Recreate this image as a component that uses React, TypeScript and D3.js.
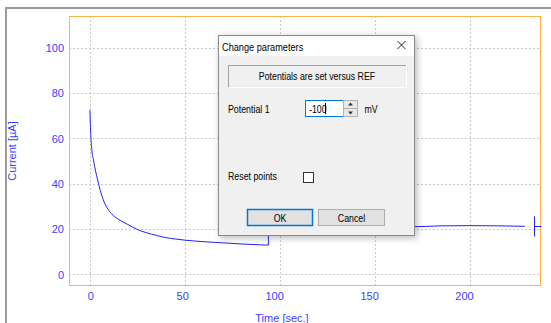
import React, { useEffect, useRef } from 'react';
import * as d3 from 'd3';

// chart values
const timeSec = [0, 0.5, 1, 2, 3, 4, 5, 6, 8, 10, 13, 16, 20, 25, 30, 35, 40, 45, 50, 60, 70, 80, 90, 94, 94, 100, 120, 140, 160, 170, 185, 200, 215, 229];
const currentUA = [72.5, 61, 55, 50, 45.5, 42, 38.5, 35.5, 31, 28.2, 25.5, 23.8, 22, 19.8, 18.3, 17.2, 16.2, 15.6, 15.1, 14.4, 13.9, 13.4, 13, 12.9, 23, 22.5, 22, 21.6, 21.3, 21, 21.4, 21.5, 21.4, 21.2];
const xTicks = [0, 50, 100, 150, 200];
const yTicks = [0, 20, 40, 60, 80, 100];
const markerTime = [234];
const markerCurrent = [21.2];

const W = 551;
const H = 323;
const plot = { left: 69, top: 16, right: 540, bottom: 285 };
const textBlue = '#3c3cff';
const dlgFont = '"Liberation Sans", Arial, sans-serif';

const Chart = () => {
  const gRef = useRef<SVGGElement>(null);

  useEffect(() => {
    const g = d3.select(gRef.current);
    g.selectAll('*').remove();

    const x = d3.scaleLinear().domain([-11, 237]).range([plot.left, plot.right]);
    const y = d3.scaleLinear().domain([-4.7, 114]).range([plot.bottom, plot.top]);

    // grid
    g.selectAll('.gx')
      .data(xTicks)
      .enter()
      .append('line')
      .attr('x1', (d) => Math.round(x(d)) + 0.5)
      .attr('x2', (d) => Math.round(x(d)) + 0.5)
      .attr('y1', plot.top)
      .attr('y2', plot.bottom)
      .attr('stroke', '#c8c8c8')
      .attr('stroke-dasharray', '2,2');

    g.selectAll('.gy')
      .data(yTicks)
      .enter()
      .append('line')
      .attr('x1', plot.left)
      .attr('x2', plot.right)
      .attr('y1', (d) => Math.round(y(d)) + 0.5)
      .attr('y2', (d) => Math.round(y(d)) + 0.5)
      .attr('stroke', '#c8c8c8')
      .attr('stroke-dasharray', '2,2');

    // plot frame
    g.append('rect')
      .attr('x', plot.left + 0.5)
      .attr('y', plot.top + 0.5)
      .attr('width', plot.right - plot.left)
      .attr('height', plot.bottom - plot.top)
      .attr('fill', 'none')
      .attr('stroke', '#ffb347');

    // tick labels
    g.selectAll('.ty')
      .data(yTicks)
      .enter()
      .append('text')
      .attr('x', 64)
      .attr('y', (d) => y(d) + 4.3)
      .attr('text-anchor', 'end')
      .attr('font-size', 11)
      .attr('fill', textBlue)
      .text((d) => d);

    g.selectAll('.tx')
      .data(xTicks)
      .enter()
      .append('text')
      .attr('x', (d) => x(d) + 4)
      .attr('y', 300)
      .attr('text-anchor', 'end')
      .attr('font-size', 11)
      .attr('fill', textBlue)
      .text((d) => d);

    // axis titles
    g.append('text')
      .attr('x', 282)
      .attr('y', 322)
      .attr('text-anchor', 'middle')
      .attr('font-size', 11)
      .attr('fill', textBlue)
      .text('Time [sec.]');

    g.append('text')
      .attr('transform', 'translate(15.5,151) rotate(-90)')
      .attr('text-anchor', 'middle')
      .attr('font-size', 11)
      .attr('fill', textBlue)
      .text('Current [µA]');

    // current curve
    const line = d3
      .line<number>()
      .x((d) => x(d))
      .y((d, i) => y(currentUA[i]))
      .curve(d3.curveMonotoneX);

    g.append('path')
      .datum(timeSec)
      .attr('d', line)
      .attr('fill', 'none')
      .attr('stroke', '#2020ff')
      .attr('stroke-width', 1);

    // end cursor
    markerTime.forEach((t, i) => {
      const mx = Math.round(x(t)) + 0.5;
      const my = Math.round(y(markerCurrent[i])) + 0.5;
      g.append('line')
        .attr('x1', mx).attr('x2', mx)
        .attr('y1', my - 10).attr('y2', my + 10)
        .attr('stroke', '#2020ff');
      g.append('line')
        .attr('x1', mx).attr('x2', mx + 7)
        .attr('y1', my).attr('y2', my)
        .attr('stroke', '#2020ff');
    });
  }, []);

  return <g ref={gRef} fontFamily='"Liberation Sans", Arial, sans-serif' />;
};

// dialog text, squeezed to look like the narrow windows UI font
const DText = ({ x, y, size = 11, anchor = 'start', children }: any) => (
  <text
    transform={`translate(${x},${y}) scale(0.8,1)`}
    fontSize={size}
    textAnchor={anchor}
  >
    {children}
  </text>
);

const Dialog = () => (
  <g fontFamily={dlgFont} fill="#000">
    <rect x={218.5} y={35.5} width={196} height={200} fill="#f0f0f0" stroke="#8a8a8a" filter="url(#shadow)" />
    <rect x={219} y={36} width={195} height={20} fill="#fff" />
    <DText x={222} y={50.5} size={11.5}>Change parameters</DText>
    <path d="M397.5,41 L405.5,49 M405.5,41 L397.5,49" stroke="#222" strokeWidth={1} />

    {/* sunken info panel */}
    <path d="M228.5,87 L228.5,65.5 L406,65.5" fill="none" stroke="#a0a0a0" />
    <path d="M228.5,87.5 L406.5,87.5 L406.5,65.5" fill="none" stroke="#fff" />
    <DText x={317} y={80} anchor="middle">Potentials are set versus REF</DText>

    <DText x={228} y={112.5}>Potential 1</DText>
    <rect x={305.5} y={100.5} width={38} height={16} fill="#fff" stroke="#0078d7" />
    <DText x={309} y={112.5}>-100</DText>
    <line x1={325.5} x2={325.5} y1={103} y2={114} stroke="#000" />
    <rect x={343.5} y={100.5} width={14} height={16} fill="#e8e8e8" stroke="#b0b0b0" />
    <line x1={344} x2={357} y1={108.5} y2={108.5} stroke="#b0b0b0" />
    <path d="M350.5,102.5 L353,105.5 L348,105.5 Z" fill="#333" />
    <path d="M350.5,114.5 L353,111.5 L348,111.5 Z" fill="#333" />
    <DText x={364.5} y={112.5}>mV</DText>

    <DText x={228} y={180}>Reset points</DText>
    <rect x={303.5} y={172.5} width={10} height={10} fill="#fff" stroke="#333" />

    <rect x={247.5} y={209.5} width={65} height={16} fill="#e1e1e1" stroke="#0078d7" strokeWidth={1.5} />
    <DText x={280} y={221.5} anchor="middle">OK</DText>
    <rect x={318.5} y={209.5} width={66} height={16} fill="#e1e1e1" stroke="#adadad" />
    <DText x={351.5} y={221.5} anchor="middle">Cancel</DText>
  </g>
);

export default function App() {
  return (
    <svg
      width={W}
      height={H}
      style={{ position: 'absolute', left: 0, top: 0, background: '#fff' }}
    >
      <defs>
        <filter id="shadow" x="-10%" y="-10%" width="125%" height="125%">
          <feDropShadow dx="2" dy="2" stdDeviation="3.5" floodColor="#000" floodOpacity="0.28" />
        </filter>
      </defs>
      {/* outer window frame */}
      <path d={`M6,${H} L6,8 L${W},8`} fill="none" stroke="#9a9a9a" strokeWidth={2} />
      <Chart />
      <Dialog />
    </svg>
  );
}
